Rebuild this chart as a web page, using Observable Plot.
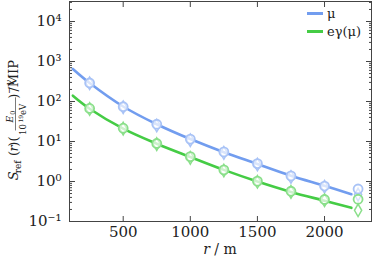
<!DOCTYPE html>
<html><head><meta charset="utf-8">
<script src="https://cdn.jsdelivr.net/npm/d3@7"></script>
<script src="https://cdn.jsdelivr.net/npm/@observablehq/plot@0.6"></script>
<style>
body{margin:0;background:#fff;}
#wrap{position:relative;width:374px;height:259px;font-family:"DejaVu Serif",serif;}
#wrap svg text{font-family:"DejaVu Serif",serif;}
.leg{position:absolute;left:307px;font-size:13px;color:#222;display:flex;align-items:center;font-family:"DejaVu Serif",serif;}
.leg span.sw{display:inline-block;width:16px;height:3px;margin-right:4px;}
</style></head>
<body><div id="wrap"></div>
<script>
const rLine = [125, 250, 500, 750, 1000, 1250, 1500, 1750, 2000, 2200];
const muLine = [650, 290, 75, 27, 11.5, 5.4, 2.75, 1.4, 0.78, 0.48];
const egLine = [140, 66, 21, 8.8, 4.1, 1.95, 1.0, 0.55, 0.33, 0.22];
const rPts = [250, 500, 750, 1000, 1250, 1500, 1750, 2000, 2250];
const muCircle = [290, 74, 27, 11.5, 5.5, 2.8, 1.38, 0.77, 0.65];
const muDiamond = [285, 72, 25, 10.8, 5.2, 2.65, 1.3, 0.74, 0.47];
const egCircle = [67, 21.5, 8.9, 4.2, 1.95, 1.02, 0.57, 0.355, 0.36];
const egDiamond = [65, 21, 8.6, 3.9, 1.88, 0.98, 0.55, 0.34, 0.19];
const xTicks = [500, 1000, 1500, 2000];
const yTicks = [0.1, 1, 10, 100, 1000, 10000];
const seriesNames = ["μ", "eγ(μ)"];
const colors = ["#729def", "#45cc45"];
const markColors = ["#a9c3f6", "#8adf8a"];
const FONT = "DejaVu Serif, serif";

const yMinor = [];
for (let e = -1; e <= 4; e++) for (let k = 2; k <= 9; k++) { const v = k * Math.pow(10, e); if (v < 31623) yMinor.push(v); }

const lineData = [];
rLine.forEach((r, i) => { lineData.push({r, v: muLine[i], s: 0}); lineData.push({r, v: egLine[i], s: 1}); });
const circ = [], diam = [];
rPts.forEach((r, i) => {
  circ.push({r, v: muCircle[i], s: 0}); circ.push({r, v: egCircle[i], s: 1});
  diam.push({r, v: muDiamond[i], s: 0}); diam.push({r, v: egDiamond[i], s: 1});
});
const sup = {"-":"⁻","0":"⁰","1":"¹","2":"²","3":"³","4":"⁴","5":"⁵","6":"⁶","7":"⁷","8":"⁸","9":"⁹"};

const chart = Plot.plot({
  width: 374, height: 259,
  marginLeft: 69, marginRight: 3, marginTop: 1, marginBottom: 38,
  style: {fontFamily: FONT, fontSize: "15px", color: "#222", background: "white", overflow: "visible"},
  x: {domain: [100, 2350]},
  y: {type: "log", domain: [0.1, 31623]},
  marks: [
    Plot.line(lineData.filter(d => d.s === 0), {x: "r", y: "v", stroke: colors[0], strokeWidth: 2.6, curve: "catmull-rom"}),
    Plot.line(lineData.filter(d => d.s === 1), {x: "r", y: "v", stroke: colors[1], strokeWidth: 2.6, curve: "catmull-rom"}),
    Plot.dot(diam, {x: "r", y: "v", symbol: "diamond", r: 3.8, stroke: d => markColors[d.s], strokeWidth: 1.5, fill: "white", fillOpacity: 0.4}),
    Plot.dot(circ, {x: "r", y: "v", symbol: "circle", r: 4.5, stroke: d => markColors[d.s], strokeWidth: 1.8, fill: "white", fillOpacity: 0.55}),
    Plot.frame({stroke: "#444", strokeWidth: 1}),
    Plot.axisX(xTicks, {tickSize: 0, tickPadding: 5, label: null, fontSize: 15, tickFormat: d3.format("d")}),
    Plot.axisX(xTicks, {tickSize: -5, tickFormat: () => "", label: null, stroke: "#444"}),
    Plot.axisX(xTicks, {anchor: "top", tickSize: -5, tickFormat: () => "", label: null, stroke: "#444"}),
    Plot.axisY(yTicks, {tickSize: 0, tickPadding: 8, label: null, fontSize: 15,
      tickFormat: d => "10" + String(Math.round(Math.log10(d))).split("").map(c => sup[c]).join("")}),
    Plot.axisY(yTicks, {tickSize: -6, tickFormat: () => "", label: null, stroke: "#444"}),
    Plot.axisY(yMinor, {tickSize: -3, tickFormat: () => "", label: null, stroke: "#444"}),
    Plot.axisY(yTicks, {anchor: "right", tickSize: -6, tickFormat: () => "", label: null, stroke: "#444"}),
    Plot.axisY(yMinor, {anchor: "right", tickSize: -3, tickFormat: () => "", label: null, stroke: "#444"})
  ]
});
document.getElementById("wrap").appendChild(chart);

const svg = d3.select(chart);
svg.attr("font-family", FONT);
svg.selectAll("text").attr("font-family", FONT);
// x axis label
const xl = svg.append("text").attr("x", 220).attr("y", 254).attr("text-anchor", "middle")
  .attr("font-size", 14).attr("fill", "#222").attr("font-family", FONT);
xl.append("tspan").attr("font-style", "italic").text("r");
xl.append("tspan").text(" / m");

// y axis label with fraction
const g = svg.append("g").attr("font-family", FONT).attr("fill", "#222");
const base = 13;
let cx = 0;
function piece(t, opt = {}) {
  const el = g.append("text").attr("x", cx).attr("y", opt.dy || 0)
    .attr("font-size", opt.size || base).attr("font-family", FONT).text(t);
  if (opt.it) el.attr("font-style", "italic");
  const w = el.node().getComputedTextLength();
  cx += w + (opt.gap || 0);
  return w;
}
function txt(t, y, size, it) {
  const el = g.append("text").attr("y", y).attr("font-size", size).attr("font-family", FONT).text(t);
  if (it) el.attr("font-style", "italic");
  return [el, el.node().getComputedTextLength()];
}
piece("S", {it: true});
piece("ref", {size: 9, dy: 3, gap: 0.5});
piece("(");
piece("r", {it: true, gap: 0.5});
piece(")(");
const fx = cx + 1;
const [nE, wE] = txt("E", -5, 9, true);
const [n0, w0] = txt("0", -3.5, 6.5, false);
const [d1, wd1] = txt("10", 8, 8.5, false);
const [d2, wd2] = txt("19", 4.5, 6, false);
const [d3t, wd3] = txt("eV", 8, 8.5, false);
const wDen = wd1 + wd2 + wd3 + 1.5, wNum = wE + w0;
const fw = Math.max(wDen, wNum) + 2;
nE.attr("x", fx + (fw - wNum) / 2); n0.attr("x", fx + (fw - wNum) / 2 + wE);
d1.attr("x", fx + (fw - wDen) / 2); d2.attr("x", fx + (fw - wDen) / 2 + wd1); d3t.attr("x", fx + (fw - wDen) / 2 + wd1 + wd2 + 1.5);
g.append("line").attr("x1", fx).attr("x2", fx + fw).attr("y1", -2.5).attr("y2", -2.5).attr("stroke", "#222").attr("stroke-width", 0.6);
cx = fx + fw + 1;
piece(")", {gap: 1});
piece("−", {size: 9, dy: -6});
piece("γ", {size: 9, dy: -6, it: true, gap: 1.5});
piece("/MIP");
const total = cx;
g.attr("transform", `translate(18,${110 + total / 2}) rotate(-90)`);

// legend
const wrap = document.getElementById("wrap");
seriesNames.forEach((n, i) => {
  const d = document.createElement("div");
  d.className = "leg";
  d.style.top = (i === 0 ? 6 : 24) + "px";
  d.innerHTML = `<span class="sw" style="background:${colors[i]}"></span><span>${n}</span>`;
  wrap.appendChild(d);
});
</script></body></html>
